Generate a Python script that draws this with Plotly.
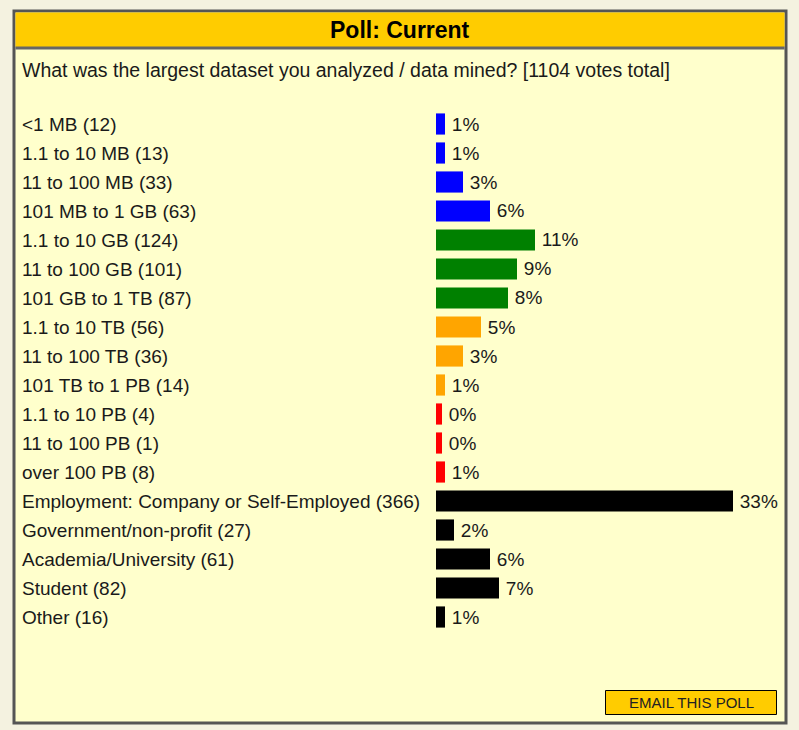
import plotly.graph_objects as go

W, H = 799, 730

categories = [
    "<1 MB", "1.1 to 10 MB", "11 to 100 MB", "101 MB to 1 GB",
    "1.1 to 10 GB", "11 to 100 GB", "101 GB to 1 TB",
    "1.1 to 10 TB", "11 to 100 TB", "101 TB to 1 PB",
    "1.1 to 10 PB", "11 to 100 PB", "over 100 PB",
    "Employment: Company or Self-Employed", "Government/non-profit",
    "Academia/University", "Student", "Other",
]
votes = [12, 13, 33, 63, 124, 101, 87, 56, 36, 14, 4, 1, 8, 366, 27, 61, 82, 16]
percents = [1, 1, 3, 6, 11, 9, 8, 5, 3, 1, 0, 0, 1, 33, 2, 6, 7, 1]
colors = (["#0000FF"] * 4 + ["#008000"] * 3 + ["#FFA500"] * 3 +
          ["#FF0000"] * 3 + ["#000000"] * 5)

title = "Poll: Current"
question = "What was the largest dataset you analyzed / data mined? [1104 votes total]"
button_text = "EMAIL THIS POLL"

FONT = "Liberation Sans, Arial, sans-serif"
PAGE_BG = "#F4F2E0"

def px(x):
    return x / W

def py(y):
    return 1 - y / H

n = len(categories)
ys = list(range(n))
bar_len = [max(p, 0.67) for p in percents]

fig = go.Figure()
fig.add_trace(go.Bar(
    x=bar_len, y=ys, orientation="h",
    marker=dict(color=colors, line=dict(width=0)),
    width=0.73,
    text=[f"\u2009{p}%" for p in percents],
    textposition="outside",
    textfont=dict(family=FONT, size=19, color="#1a1a1a"),
    cliponaxis=False,
    hoverinfo="skip",
))

x0 = 436
pitch = 29
row0 = 124
a = -row0 / pitch
b = a + H / pitch

shapes = [
    dict(type="rect", xref="paper", yref="paper",
         x0=px(14), x1=px(786), y0=py(723), y1=py(11),
         fillcolor="#FFFFCC", line=dict(color="#555555", width=3), layer="below"),
    dict(type="rect", xref="paper", yref="paper",
         x0=px(15.5), x1=px(784.5), y0=py(47), y1=py(12.5),
         fillcolor="#FFCC00", line=dict(width=0), layer="below"),
    dict(type="line", xref="paper", yref="paper",
         x0=px(15.5), x1=px(784.5), y0=py(48), y1=py(48),
         line=dict(color="#666666", width=3), layer="below"),
    dict(type="rect", xref="paper", yref="paper",
         x0=px(605.5), x1=px(776.5), y0=py(714.5), y1=py(690.5),
         fillcolor="#FFCC00", line=dict(color="#000000", width=1), layer="above"),
]

annotations = [
    dict(text=f"<b>{title}</b>", xref="paper", yref="paper", x=px(400), y=py(30),
         xanchor="center", yanchor="middle", showarrow=False,
         font=dict(family=FONT, size=23, color="#000000")),
    dict(text=question, xref="paper", yref="paper", x=px(20), y=py(70),
         xanchor="left", yanchor="middle", showarrow=False,
         font=dict(family=FONT, size=19.5, color="#1a1a1a")),
    dict(text=button_text, xref="paper", yref="paper", x=px(691), y=py(702.5),
         xanchor="center", yanchor="middle", showarrow=False,
         font=dict(family=FONT, size=15, color="#222222")),
]
for i, (c, v) in enumerate(zip(categories, votes)):
    annotations.append(dict(
        text=f"{c} ({v})", xref="paper", yref="y", x=px(20), y=i,
        xanchor="left", yanchor="middle", showarrow=False,
        font=dict(family=FONT, size=19, color="#1a1a1a")))

fig.update_layout(
    width=W, height=H,
    margin=dict(l=0, r=0, t=0, b=0),
    paper_bgcolor=PAGE_BG,
    plot_bgcolor="rgba(0,0,0,0)",
    showlegend=False,
    xaxis=dict(domain=[px(x0), 1], range=[0, (W - x0) / 9], visible=False, fixedrange=True),
    yaxis=dict(domain=[0, 1], range=[b, a], visible=False, fixedrange=True),
    shapes=shapes,
    annotations=annotations,
    font=dict(family=FONT),
)

fig.write_html(
    "out.html",
    config={"displayModeBar": False},
    post_script=("document.body.style.margin='0';"
                 "document.body.style.overflow='hidden';"
                 f"document.body.style.background='{PAGE_BG}';"),
)
